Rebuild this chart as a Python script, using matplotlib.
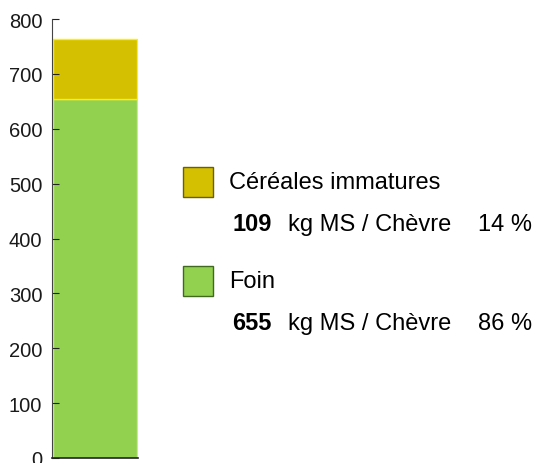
import matplotlib
matplotlib.use("Agg")
import matplotlib.pyplot as plt
from matplotlib.patches import Rectangle

plt.rcParams['font.family'] = ['Liberation Sans', 'DejaVu Sans']

# data
categories = ["Foin", "Céréales immatures"]
values = [655, 109]
percents = ["86 %", "14 %"]
colors = ["#92D050", "#D4C000"]
edge_colors = ["#C4F080", "#FFF200"]
legend_edges = ["#3F6A1E", "#6B5F00"]
y_ticks = [0, 100, 200, 300, 400, 500, 600, 700, 800]

fig = plt.figure(figsize=(5.35, 4.64), dpi=100)
ax = fig.add_axes([52 / 535, 5 / 464, 86 / 535, 439 / 464])

bottom = 0
for val, col, ec in zip(values, colors, edge_colors):
    ax.bar(0, val, width=1.0, bottom=bottom, color=col, edgecolor=ec, linewidth=1)
    bottom += val

ax.set_xlim(-0.51, 0.51)
ax.set_ylim(0, 800)
ax.set_yticks(y_ticks)
ax.set_xticks([])
ax.tick_params(axis='y', direction='in', length=5, labelsize=14.5, pad=7,
               color='#222222', labelcolor='#1a1a1a')
ax.spines['top'].set_visible(False)
ax.spines['right'].set_visible(False)
ax.spines['left'].set_color('#444444')
ax.spines['bottom'].set_color('#222222')
ax.spines['bottom'].set_linewidth(1.2)

# legend drawn as figure elements (order: top item first)
fs = 17
rows = [(1, 183), (0, 282)]
for idx, y_center in rows:
    fig.patches.append(Rectangle((183 / 535, 1 - (y_center + 15) / 464), 30 / 535, 30 / 464,
                                 transform=fig.transFigure, facecolor=colors[idx],
                                 edgecolor=legend_edges[idx], linewidth=1))
    fig.text(229 / 535, 1 - y_center / 464, categories[idx], fontsize=fs,
             va='center', ha='left')
    y2 = y_center + 42
    fig.text(232 / 535, 1 - y2 / 464, str(values[idx]), fontsize=fs,
             fontweight='bold', va='center', ha='left')
    fig.text(288 / 535, 1 - y2 / 464, "kg MS / Chèvre", fontsize=fs,
             va='center', ha='left')
    fig.text(532 / 535, 1 - y2 / 464, percents[idx], fontsize=fs,
             va='center', ha='right')

fig.savefig("out.png", dpi=100)
